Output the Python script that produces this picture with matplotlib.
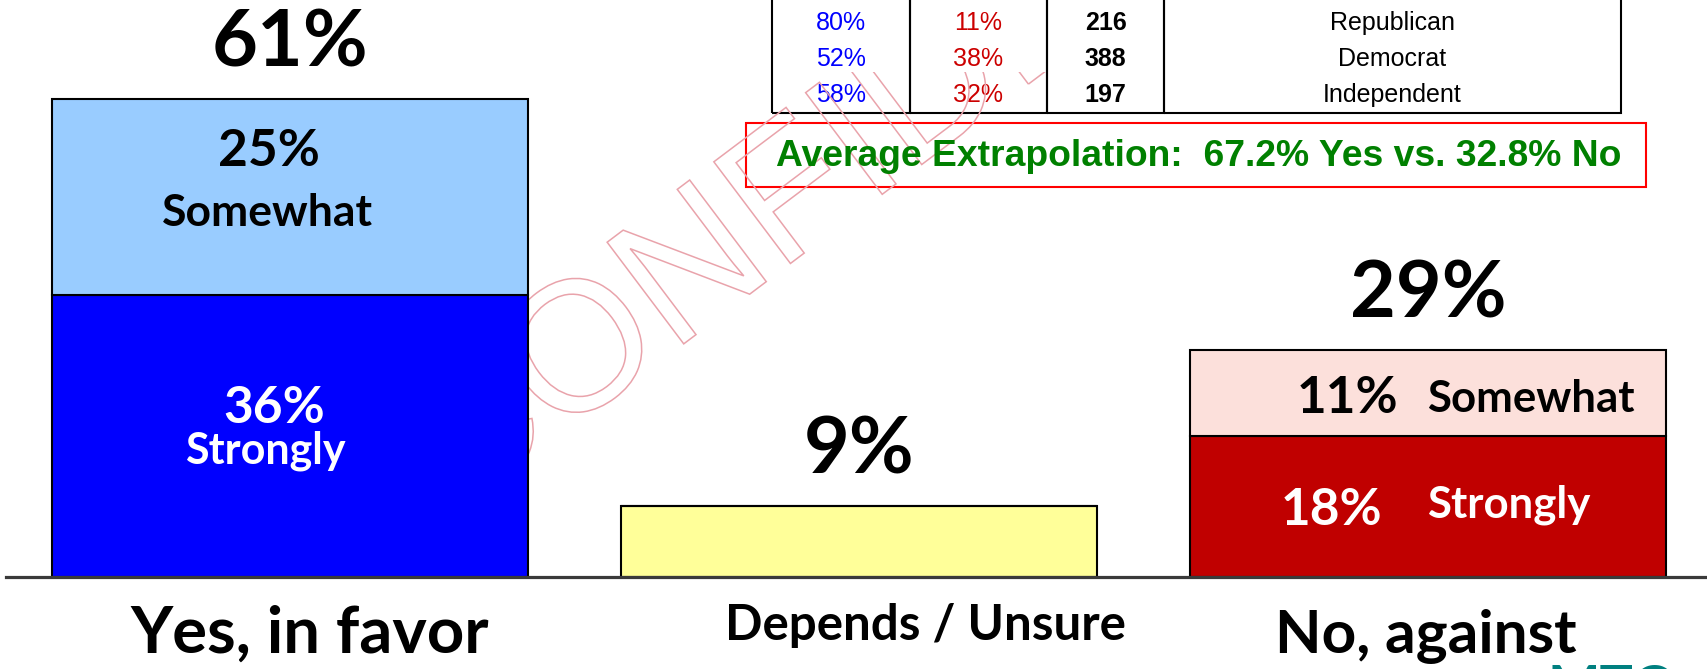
import matplotlib
matplotlib.use('Agg')
import matplotlib.pyplot as plt
import matplotlib.transforms as mtransforms
from matplotlib.patches import Rectangle, PathPatch
from matplotlib.textpath import TextPath
from matplotlib.font_manager import FontProperties

# Data
categories = ['Yes, in favor', 'Depends / Unsure', 'No, against']
lower = [36, 9, 18]          # Strongly / unsure
upper = [25, 0, 11]          # Somewhat
lower_colors = ['#0000FF', '#FFFF99', '#C00000']
upper_colors = ['#99CCFF', '#FFFFFF', '#FCE0DB']

party = ['Republican', 'Democrat', 'Independent']
party_yes = ['80%', '52%', '58%']
party_no = ['11%', '38%', '32%']
party_n = ['216', '388', '197']
summary = 'Average Extrapolation:  67.2% Yes vs. 32.8% No'

# Canvas in pixels
W, H, DPI = 1707, 669, 100
BASE, K = 577, 7.84          # baseline pixel row, pixels per percent
X0, STEP = 290, 569          # first bar centre, bar spacing

plt.rcParams['font.family'] = ['Lato', 'DejaVu Sans']
fig = plt.figure(figsize=(W / DPI, H / DPI), dpi=DPI)
ax = fig.add_axes([0, 0, 1, 1])
ax.axis('off')
px = mtransforms.Affine2D().scale(1, -1).translate(0, H)   # top-down pixels

xs = list(range(len(categories)))
totals = [a + b for a, b in zip(lower, upper)]

# Bars
ax.bar(xs, lower, width=0.835, color=lower_colors, edgecolor='black', linewidth=1.5, zorder=2)
ax.bar(xs, upper, bottom=lower, width=0.835, color=upper_colors, edgecolor='black',
       linewidth=1.5, zorder=2)
ax.axhline(0, xmin=6 / W, color='#3a3a3a', linewidth=2.3, zorder=3)

# Totals above bars
for x, t in zip(xs, totals):
    ax.text(x, t + 4.15, f'{t}%', ha='center', va='baseline', fontsize=57, fontweight='bold')

# Segment labels, left bar
ax.text(-0.037, lower[0] + upper[0] / 2 + 3.9, f'{upper[0]}%', ha='center', va='baseline',
        fontsize=37, fontweight='bold')
ax.text(-0.04, lower[0] + upper[0] / 2 - 3.7, 'Somewhat', ha='center', va='baseline',
        fontsize=32, fontweight='bold')
ax.text(-0.028, lower[0] / 2 + 1.7, f'{lower[0]}%', ha='center', va='baseline',
        fontsize=37, fontweight='bold', color='white')
ax.text(-0.044, lower[0] / 2 - 3.5, 'Strongly', ha='center', va='baseline',
        fontsize=31, fontweight='bold', color='white')

# Segment labels, right bar
ax.text(1.947, lower[2] + upper[2] / 2 - 2.6, f'{upper[2]}%', ha='right', va='baseline',
        fontsize=37, fontweight='bold')
ax.text(1.998, lower[2] + upper[2] / 2 - 2.5, 'Somewhat', ha='left', va='baseline',
        fontsize=31.5, fontweight='bold')
ax.text(1.919, lower[2] / 2 - 2.4, f'{lower[2]}%', ha='right', va='baseline',
        fontsize=37, fontweight='bold', color='white')
ax.text(1.998, lower[2] / 2 - 1.4, 'Strongly', ha='left', va='baseline',
        fontsize=31.5, fontweight='bold', color='white')

# Category labels under the baseline
ax.text(0.035, -9.7, categories[0], ha='center', va='baseline', fontsize=47, fontweight='bold')
ax.text(1.116, -8.0, categories[1], ha='center', va='baseline', fontsize=35.5, fontweight='bold')
ax.text(1.996, -9.7, categories[2], ha='center', va='baseline', fontsize=43.5, fontweight='bold')

# Party table (top row runs off the canvas)
rows = [['', '', '', '']] + [list(r) for r in zip(party_yes, party_no, party_n, party)]
col_px = [138, 137, 117, 457]
tbl = ax.table(cellText=rows, colWidths=[c / W for c in col_px], cellLoc='center',
               bbox=[772 / W, (H - 113) / H, sum(col_px) / W, 144 / H])
tbl.auto_set_font_size(False)
tbl.set_fontsize(18)
tbl.set_zorder(1)
for (r, c), cell in tbl.get_celld().items():
    cell.set_linewidth(1.5)
    cell.visible_edges = 'BLR' if r == len(rows) - 1 else 'LR'
    txt = cell.get_text()
    txt.set_fontfamily('Liberation Sans')
    if c == 0:
        txt.set_color('#0000FF')
    elif c == 1:
        txt.set_color('#CC0000')
    elif c == 2:
        txt.set_fontweight('bold')

# Summary box
ax.add_patch(Rectangle((746, 123), 900, 64, transform=px, facecolor='white',
                       edgecolor='#FF0000', linewidth=1.5, zorder=1))
ax.text(1199, 157, summary, transform=px, ha='center', va='center', color='#008000',
        fontsize=26.8, fontweight='bold', family='Liberation Sans')

# Watermark, hollow outline letters, only shown below the upper table rows
tp = TextPath((0, 0), 'CONFIDENTIAL', size=185, prop=FontProperties(family='Liberation Sans'))
wm = mtransforms.Affine2D().rotate_deg(37).translate(450, 149)
mark = PathPatch(tp, transform=wm, facecolor='none', edgecolor='#E9A3AB',
                 linewidth=1.1, zorder=1.5)
ax.add_patch(mark)
clip = Rectangle((0, 72), W, H, transform=px, visible=False)
ax.add_patch(clip)
mark.set_clip_path(clip)

# Logo peeking at bottom right
ax.text(1548, 705, 'MTC', transform=px, ha='left', va='baseline', color='#008080',
        fontsize=40, fontweight='bold')

ax.set_xlim(-X0 / STEP, (W - X0) / STEP)
ax.set_ylim(-(H - BASE) / K, BASE / K)

fig.savefig('out.png', dpi=DPI)
